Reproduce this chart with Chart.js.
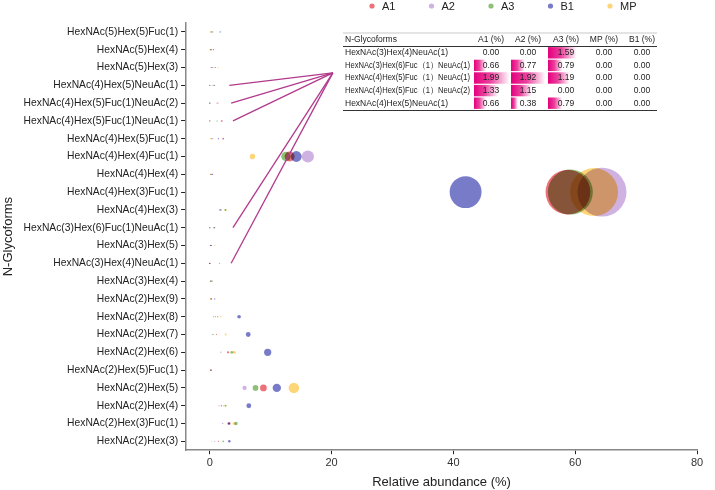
<!DOCTYPE html>
<html>
<head>
<meta charset="utf-8">
<script src="https://cdn.jsdelivr.net/npm/chart.js@4.4.0/dist/chart.umd.min.js"></script>
<style>
  html, body { margin: 0; padding: 0; background: #fff; }
  #wrap { width: 715px; height: 490px; }
</style>
</head>
<body>
<div id="wrap"><canvas id="chart" width="715" height="490"></canvas></div>
<script>
/* =========================
   DATA
========================= */

const glycoforms = [
  "HexNAc(5)Hex(5)Fuc(1)", "HexNAc(5)Hex(4)", "HexNAc(5)Hex(3)",
  "HexNAc(4)Hex(5)NeuAc(1)", "HexNAc(4)Hex(5)Fuc(1)NeuAc(2)", "HexNAc(4)Hex(5)Fuc(1)NeuAc(1)",
  "HexNAc(4)Hex(5)Fuc(1)", "HexNAc(4)Hex(4)Fuc(1)", "HexNAc(4)Hex(4)",
  "HexNAc(4)Hex(3)Fuc(1)", "HexNAc(4)Hex(3)", "HexNAc(3)Hex(6)Fuc(1)NeuAc(1)",
  "HexNAc(3)Hex(5)", "HexNAc(3)Hex(4)NeuAc(1)", "HexNAc(3)Hex(4)",
  "HexNAc(2)Hex(9)", "HexNAc(2)Hex(8)", "HexNAc(2)Hex(7)",
  "HexNAc(2)Hex(6)", "HexNAc(2)Hex(5)Fuc(1)", "HexNAc(2)Hex(5)",
  "HexNAc(2)Hex(4)", "HexNAc(2)Hex(3)Fuc(1)", "HexNAc(2)Hex(3)"
];

const seriesNames = ["A1", "A2", "A3", "B1", "MP"];

const a1 = [0.3, 0.2, 0.5, 0.66, 1.33, 1.99, 2.2, 13.1, 0.2, 58.8, 1.6, 0.66,
            0.2, 0.0, 0.3, 0.2, 1.3, 1.1, 3.0, 0.2, 8.8, 1.9, 3.2, 1.4];
const a2 = [0.2, 0.3, 0.2, 0.38, 1.15, 1.92, 0.4, 16.1, 0.5, 64.4, 1.8, 0.77,
            0.1, 0.0, 0.2, 0.3, 0.6, 0.6, 1.8, 0.3, 5.7, 1.5, 2.1, 0.8];
const a3 = [0.5, 0.1, 0.3, 0.79, 0.0, 1.19, 0.3, 12.5, 0.2, 59.2, 2.6, 0.79,
            0.3, 1.59, 0.4, 0.2, 0.9, 0.4, 3.6, 0.2, 7.5, 2.6, 4.3, 2.2];
const b1 = [1.7, 0.6, 0.9, 0.0, 0.0, 0.0, 1.4, 14.2, 0.4, 42.0, 1.8, 0.0,
            0.1, 0.0, 0.1, 0.8, 4.8, 6.3, 9.5, 0.1, 11.0, 6.4, 3.1, 3.2];
const mp = [0.1, 0.1, 1.4, 0.0, 0.0, 0.0, 0.1, 7.0, 0.1, 63.1, 2.5, 0.0,
            0.8, 0.0, 0.1, 0.1, 1.8, 2.6, 4.0, 0.1, 13.8, 2.3, 4.0, 0.3];

const xTicks = [0, 20, 40, 60, 80];

// inset table (sialylated glycoforms)
const tableHeader = ["N-Glycoforms", "A1 (%)", "A2 (%)", "A3 (%)", "MP (%)", "B1 (%)"];
const tableNames = [
  "HexNAc(3)Hex(4)NeuAc(1)",
  "HexNAc(3)Hex(6)Fuc\uFF081\uFF09NeuAc(1)",
  "HexNAc(4)Hex(5)Fuc\uFF081\uFF09NeuAc(1)",
  "HexNAc(4)Hex(5)Fuc\uFF081\uFF09NeuAc(2)",
  "HexNAc(4)Hex(5)NeuAc(1)"
];
const tableA1 = [0.00, 0.66, 1.99, 1.33, 0.66];
const tableA2 = [0.00, 0.77, 1.92, 1.15, 0.38];
const tableA3 = [1.59, 0.79, 1.19, 0.00, 0.79];
const tableMP = [0.00, 0.00, 0.00, 0.00, 0.00];
const tableB1 = [0.00, 0.00, 0.00, 0.00, 0.00];

// rows of the main chart that are linked to the table
const linkedRows = [3, 4, 5, 11, 13];

/* =========================
   STYLE
========================= */

const colors = [
  [238, 112, 120],
  [208, 178, 226],
  [142, 192, 120],
  [120, 124, 200],
  [253, 214, 120]
];
const FONT = "'Liberation Sans', Arial, sans-serif";

const rgb = c => `rgb(${c[0]},${c[1]},${c[2]})`;

function bubbleData(values) {
  return glycoforms.map((g, i) => ({ x: values[i], y: g, r: Math.max(0.6, values[i] * 0.38) }));
}

/* =========================
   EXTRAS: white bg, multiply bubbles, legend, links, table
========================= */

const extras = {
  id: "extras",
  beforeDraw(chart) {
    const ctx = chart.ctx;
    ctx.save();
    ctx.fillStyle = "#fff";
    ctx.fillRect(0, 0, chart.width, chart.height);
    ctx.restore();
  },
  beforeDatasetsDraw(chart) {
    chart.ctx.save();
    chart.ctx.globalCompositeOperation = "multiply";
  },
  afterDatasetsDraw(chart) {
    chart.ctx.restore();
  },
  afterDraw(chart) {
    const ctx = chart.ctx;
    const xs = chart.scales.x;
    const ys = chart.scales.y;

    // legend
    ctx.save();
    ctx.font = "11px " + FONT;
    ctx.textBaseline = "middle";
    seriesNames.forEach((name, i) => {
      const cx = 372 + i * 59.5;
      ctx.fillStyle = rgb(colors[i]);
      ctx.beginPath();
      ctx.arc(cx, 6, 2.6, 0, Math.PI * 2);
      ctx.fill();
      ctx.fillStyle = "#222";
      ctx.fillText(name, cx + 10, 6.5);
    });
    ctx.restore();

    // link lines
    ctx.save();
    ctx.strokeStyle = "#b23a8c";
    ctx.lineWidth = 1.3;
    const endX = xs.getPixelForValue(20.2);
    const endY = ys.getPixelForValue(2.3);
    const startVals = [3.2, 3.5, 3.8, 3.8, 3.5];
    linkedRows.forEach((r, i) => {
      ctx.beginPath();
      ctx.moveTo(xs.getPixelForValue(startVals[i]), ys.getPixelForValue(r));
      ctx.lineTo(endX, endY);
      ctx.stroke();
    });
    ctx.restore();

    // table
    const left = 343, right = 657, top = 33, headH = 13.5, rowH = 12.6;
    const colCenters = [491, 528, 566, 604, 642];
    const colLefts = [474, 511, 548, 586, 624];
    const cols = [tableA1, tableA2, tableA3, tableMP, tableB1];

    ctx.save();
    ctx.fillStyle = "#fff";
    ctx.fillRect(left, top, right - left, headH + rowH * tableNames.length + 2);

    // gradient bars
    cols.forEach((vals, c) => {
      vals.forEach((v, r) => {
        if (v <= 0) return;
        const w = v / 2 * 36;
        const y0 = top + headH + r * rowH + 0.6;
        const g = ctx.createLinearGradient(colLefts[c], 0, colLefts[c] + w, 0);
        g.addColorStop(0, "rgba(228,0,124,1)");
        g.addColorStop(0.45, "rgba(228,0,124,0.75)");
        g.addColorStop(1, "rgba(228,0,124,0)");
        ctx.fillStyle = g;
        ctx.fillRect(colLefts[c], y0, w, rowH - 1.2);
      });
    });

    ctx.font = "8.5px " + FONT;
    ctx.textBaseline = "middle";
    ctx.fillStyle = "#222";
    ctx.textAlign = "left";
    ctx.fillText(tableHeader[0], left + 2, top + headH / 2);
    ctx.textAlign = "center";
    tableHeader.slice(1).forEach((h, c) => ctx.fillText(h, colCenters[c], top + headH / 2));

    tableNames.forEach((n, r) => {
      const yc = top + headH + r * rowH + rowH / 2;
      ctx.textAlign = "left";
      ctx.fillText(n, left + 2, yc, 125);
      ctx.textAlign = "center";
      cols.forEach((vals, c) => ctx.fillText(vals[r].toFixed(2), colCenters[c], yc));
    });

    ctx.strokeStyle = "#bbb";
    ctx.lineWidth = 0.8;
    ctx.beginPath();
    ctx.moveTo(left, top); ctx.lineTo(right, top);
    ctx.stroke();
    ctx.strokeStyle = "#333";
    ctx.lineWidth = 1;
    ctx.beginPath();
    ctx.moveTo(left, top + headH); ctx.lineTo(right, top + headH);
    const bottom = top + headH + rowH * tableNames.length + 1;
    ctx.moveTo(left, bottom); ctx.lineTo(right, bottom);
    ctx.stroke();
    ctx.restore();
  }
};

/* =========================
   CHART
========================= */

const allSeries = [a1, a2, a3, b1, mp];

new Chart(document.getElementById("chart"), {
  type: "bubble",
  data: {
    labels: glycoforms,
    datasets: seriesNames.map((name, i) => ({
      label: name,
      data: bubbleData(allSeries[i]),
      backgroundColor: rgb(colors[i]),
      borderWidth: 0,
      hoverRadius: 0,
      order: -i
    }))
  },
  options: {
    responsive: false,
    animation: false,
    layout: { autoPadding: false, padding: { top: 23, right: 18, left: 1, bottom: 0 } },
    plugins: {
      legend: { display: false },
      tooltip: { enabled: false }
    },
    scales: {
      x: {
        type: "linear",
        min: -3.9,
        max: 80,
        afterBuildTicks: s => { s.ticks = xTicks.map(v => ({ value: v })); },
        grid: { drawOnChartArea: false, tickLength: 4, color: "#222" },
        border: { color: "#888", width: 1.5 },
        ticks: { color: "#333", font: { size: 11, family: FONT }, padding: 2 },
        title: { display: true, text: "Relative abundance (%)", color: "#222",
                 font: { size: 13, family: FONT }, padding: { top: 3, bottom: 0 } }
      },
      y: {
        type: "category",
        labels: glycoforms,
        offset: true,
        grid: { drawOnChartArea: false, tickLength: 5, color: "#222" },
        border: { color: "#888", width: 1.5 },
        ticks: { color: "#222", font: { size: 10.3, family: FONT }, padding: 3, autoSkip: false },
        title: { display: true, text: "N-Glycoforms", color: "#222",
                 font: { size: 13, family: FONT }, padding: { top: 0, bottom: 4 } }
      }
    }
  },
  plugins: [extras]
});
</script>
</body>
</html>
